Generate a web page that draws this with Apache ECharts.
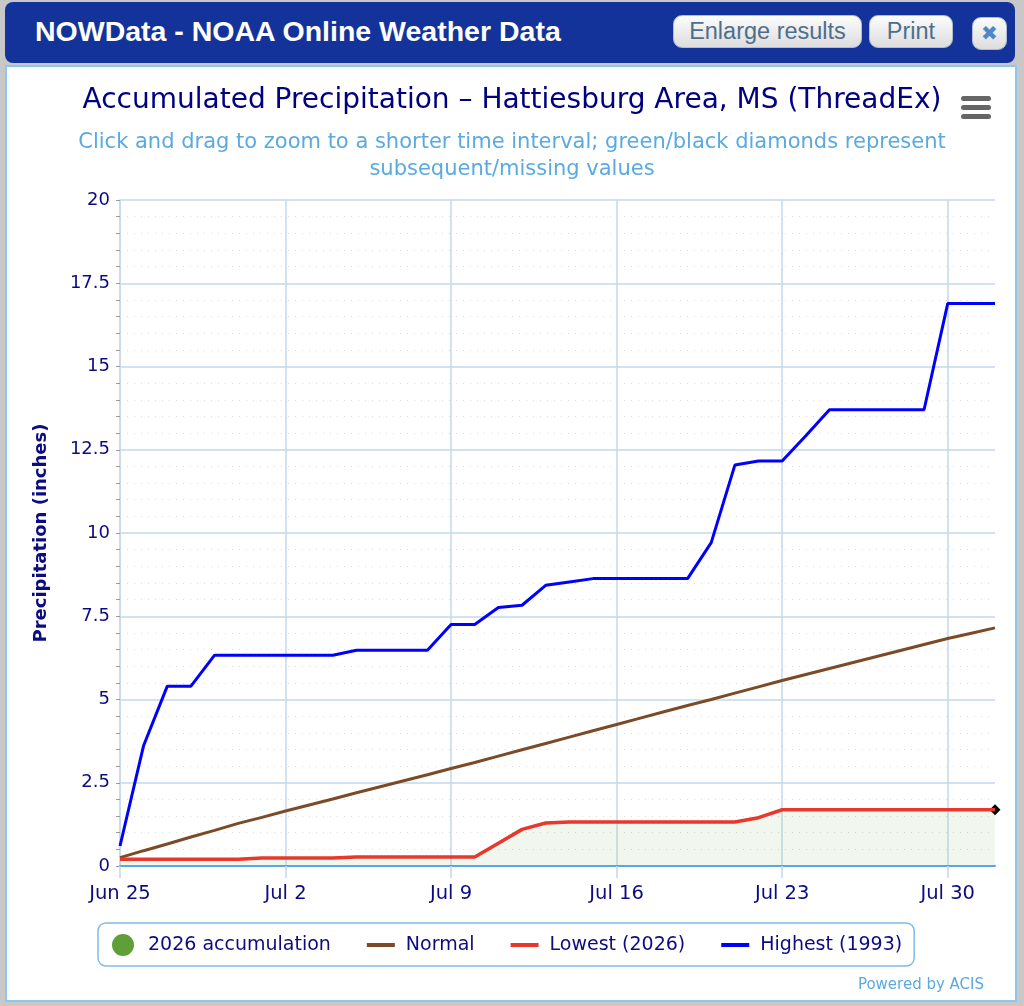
<!DOCTYPE html>
<html>
<head>
<meta charset="utf-8">
<title>Accumulated Precipitation - Hattiesburg Area, MS</title>
<script src="https://cdn.jsdelivr.net/npm/echarts@6/dist/echarts.min.js"></script>
<style>
  body { margin: 0; width: 1024px; height: 1006px; background: #c8c8c8; position: relative; overflow: hidden; font-family: 'Liberation Sans', Arial, sans-serif; }
  #hdr { position: absolute; left: 5px; top: 2px; width: 1010px; height: 61px; background: #14339a; border-radius: 8px; }
  #hdr .ttl { position: absolute; left: 30px; top: 13px; color: #fff; font-weight: bold; font-size: 28.5px; }
  .btn { position: absolute; top: 13px; height: 33px; box-sizing: border-box; border: 1px solid #aebdd0; border-radius: 9px; background: linear-gradient(#fcfcfc, #dddddd); color: #4e6e8e; font-size: 23.5px; line-height: 31px; text-align: center; }
  #panel { position: absolute; left: 5px; top: 65px; width: 1012px; height: 937px; box-sizing: border-box; background: #fff; border: 2px solid #8ec6ee; }
  #main { position: absolute; left: 0; top: 0; width: 1024px; height: 1006px; }
</style>
</head>
<body>
<div id="hdr">
  <span class="ttl">NOWData - NOAA Online Weather Data</span>
  <div class="btn" style="left:668px;width:189px;">Enlarge results</div>
  <div class="btn" style="left:864px;width:84px;">Print</div>
  <div class="btn" style="left:967px;width:35px;top:15px;color:#4f88c6;font-size:20px;font-family:'DejaVu Sans';">&#10006;</div>
</div>
<div id="panel"></div>
<div id="main"></div>
<script>
// days shown on the x axis (Jun 25 .. Aug 1)
const days = ['Jun 25', 'Jun 26', 'Jun 27', 'Jun 28', 'Jun 29', 'Jun 30',
  'Jul 1', 'Jul 2', 'Jul 3', 'Jul 4', 'Jul 5', 'Jul 6', 'Jul 7', 'Jul 8', 'Jul 9', 'Jul 10',
  'Jul 11', 'Jul 12', 'Jul 13', 'Jul 14', 'Jul 15', 'Jul 16', 'Jul 17', 'Jul 18', 'Jul 19', 'Jul 20',
  'Jul 21', 'Jul 22', 'Jul 23', 'Jul 24', 'Jul 25', 'Jul 26', 'Jul 27', 'Jul 28', 'Jul 29', 'Jul 30',
  'Jul 31', 'Aug 1'];

// normal accumulation (inches)
const normalPcpn = [0.25, 0.46, 0.66, 0.87, 1.07, 1.28, 1.46, 1.65, 1.83, 2.01,
  2.20, 2.38, 2.56, 2.74, 2.93, 3.11, 3.30, 3.49, 3.68, 3.87,
  4.06, 4.25, 4.44, 4.63, 4.82, 5.00, 5.19, 5.38, 5.57, 5.75,
  5.93, 6.11, 6.29, 6.47, 6.65, 6.83, 6.99, 7.15];

// 2026 accumulation -- also the lowest on record
const obs2026 = [0.20, 0.20, 0.20, 0.20, 0.20, 0.20, 0.24, 0.24, 0.24, 0.24,
  0.27, 0.27, 0.27, 0.27, 0.27, 0.27, 0.68, 1.10, 1.29, 1.32,
  1.32, 1.32, 1.32, 1.32, 1.32, 1.32, 1.32, 1.45, 1.69, 1.69,
  1.69, 1.69, 1.69, 1.69, 1.69, 1.69, 1.69, 1.69];

// highest (1993)
const high1993 = [0.60, 3.62, 5.40, 5.40, 6.33, 6.33, 6.33, 6.33, 6.33, 6.33,
  6.48, 6.48, 6.48, 6.48, 7.25, 7.25, 7.76, 7.83, 8.43, 8.53,
  8.63, 8.63, 8.63, 8.63, 8.63, 9.71, 12.04, 12.16, 12.16, 12.92,
  13.70, 13.70, 13.70, 13.70, 13.70, 16.89, 16.89, 16.89];

const NAVY = '#0c0c80';
const GRID = '#c4d8ee';
const FONT = 'DejaVu Sans';
const linePath = 'path://M0,0 H28 V4 H0 Z';

// last 2026 value gets the black "missing" diamond
const accumData = obs2026.map((v, i) => i === obs2026.length - 1
  ? { value: v, symbol: 'diamond', symbolSize: 11, itemStyle: { color: '#000' } }
  : v);

const chart = echarts.init(document.getElementById('main'));
chart.setOption({
  animation: false,
  textStyle: { fontFamily: FONT },
  title: [{
    text: 'Accumulated Precipitation – Hattiesburg Area, MS (ThreadEx)',
    left: 'center',
    top: 82,
    textStyle: { color: '#000080', fontSize: 28, fontWeight: 'normal', fontFamily: FONT },
  }, {
    text: 'Click and drag to zoom to a shorter time interval; green/black diamonds represent\nsubsequent/missing values',
    left: 'center',
    top: 124,
    textStyle: { color: '#5aaae0', fontSize: 21, fontWeight: 'normal', lineHeight: 27, fontFamily: FONT },
  }],
  grid: { left: 120, right: 29, top: 200, bottom: 140 },
  legend: {
    left: 98,
    top: 923,
    padding: [11, 12, 10, 14],
    itemGap: 36,
    itemWidth: 28,
    itemHeight: 22,
    borderColor: '#80bbe8',
    borderWidth: 1.5,
    borderRadius: 8,
    textStyle: { color: NAVY, fontSize: 19, fontFamily: FONT, padding: [2, 0, 0, 6] },
    data: [
      { name: '2026 accumulation', icon: 'circle' },
      { name: 'Normal', icon: linePath },
      { name: 'Lowest (2026)', icon: linePath },
      { name: 'Highest (1993)', icon: linePath },
    ],
  },
  xAxis: {
    type: 'category',
    data: days,
    boundaryGap: false,
    axisLine: { lineStyle: { color: '#5aa8e2', width: 2 } },
    axisTick: { show: true, interval: 6, length: 12, lineStyle: { color: GRID, width: 1.5 } },
    axisLabel: { interval: 6, color: NAVY, fontSize: 19.5, margin: 18, fontFamily: FONT },
    splitLine: { show: true, interval: 6, lineStyle: { color: GRID, width: 1.5 } },
  },
  yAxis: {
    type: 'value',
    min: 0,
    max: 20,
    interval: 2.5,
    name: 'Precipitation (inches)',
    nameLocation: 'middle',
    nameGap: 70,
    nameTextStyle: { color: NAVY, fontSize: 18, fontWeight: 'bold', fontFamily: FONT },
    axisLine: { show: true, lineStyle: { color: GRID, width: 1.5 } },
    axisTick: { show: true, length: 4, lineStyle: { color: '#999' } },
    minorTick: { show: true, splitNumber: 5, length: 4, lineStyle: { color: '#999' } },
    axisLabel: { color: NAVY, fontSize: 18, margin: 10, fontFamily: FONT },
    splitLine: { lineStyle: { color: GRID, width: 1.5 } },
    minorSplitLine: { show: true, lineStyle: { color: '#dadada', type: [1, 6] } },
  },
  series: [{
    name: '2026 accumulation',
    type: 'line',
    data: accumData,
    color: '#5e9f38',
    symbol: 'circle',
    symbolSize: 0,
    showAllSymbol: true,
    lineStyle: { width: 0 },
    areaStyle: { color: 'rgba(95,160,55,0.12)', origin: 'start' },
    z: 1,
  }, {
    name: 'Normal',
    type: 'line',
    data: normalPcpn,
    color: '#7b4a26',
    symbol: 'none',
    lineStyle: { width: 3 },
    z: 2,
  }, {
    name: 'Lowest (2026)',
    type: 'line',
    data: obs2026,
    color: '#e8382b',
    symbol: 'none',
    lineStyle: { width: 3.5 },
    z: 3,
  }, {
    name: 'Highest (1993)',
    type: 'line',
    data: high1993,
    color: '#0000ff',
    symbol: 'none',
    lineStyle: { width: 3 },
    z: 4,
  }],
  graphic: [
    // export menu icon
    { type: 'rect', left: 961, top: 96, shape: { width: 30, height: 5, r: 2.5 }, style: { fill: '#666' } },
    { type: 'rect', left: 961, top: 105, shape: { width: 30, height: 5, r: 2.5 }, style: { fill: '#666' } },
    { type: 'rect', left: 961, top: 114, shape: { width: 30, height: 5, r: 2.5 }, style: { fill: '#666' } },
    { type: 'text', right: 40, top: 978, style: { text: 'Powered by ACIS', fill: '#5aaae0', font: '15px "DejaVu Sans"' } },
  ],
});
</script>
</body>
</html>
